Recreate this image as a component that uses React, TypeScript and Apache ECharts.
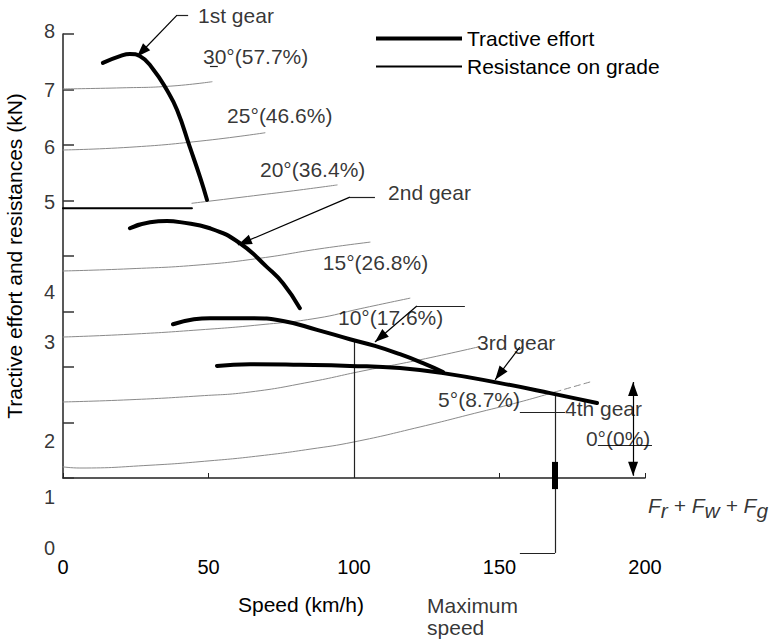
import React, { useEffect, useRef } from 'react';
import * as echarts from 'echarts';

const FONT = '"Liberation Sans", Arial, Helvetica, sans-serif';

// ---- axes ----
const xMin = 0;
const xMax = 200;
const xInterval = 50;
const yMin = 0;
const yMax = 8;
const yInterval = 1;
// the printed y tick labels sit where the original figure put them (kN positions)
const yTickLabels = ['0', '1', '2', '3', '4', '5', '6', '7', '8'];
const yTickLabelAt = [-1.26, -0.34, 0.67, 2.45, 3.35, 4.97, 5.96, 6.99, 8.05];
const yTickLabelSpeed = -4.6;

// ---- tractive effort (speed km/h, force kN) ----
const gear1 = [[13.7, 7.48], [19.6, 7.6], [23.0, 7.64], [26.5, 7.6], [30.9, 7.37], [35.7, 6.99], [39.2, 6.63], [43.6, 5.96], [47.1, 5.42], [49.5, 5.01]];
const gear2 = [[23.0, 4.5], [29.9, 4.61], [35.7, 4.63], [40.2, 4.61], [50.5, 4.5], [60.8, 4.23], [70.1, 3.8], [75.6, 3.51], [81.4, 3.06]];
const gear3 = [[37.8, 2.77], [45.0, 2.86], [50.5, 2.88], [64.3, 2.88], [75.6, 2.83], [87.3, 2.67], [98.6, 2.5], [107.2, 2.38], [115.8, 2.23], [123.7, 2.07], [130.6, 1.91]];
const gear4 = [[52.9, 2.02], [64.3, 2.05], [81.4, 2.04], [98.6, 2.02], [115.8, 1.98], [130.6, 1.89], [150.2, 1.71], [167.4, 1.53], [183.5, 1.35]];

// ---- resistance on grade ----
const grade0 = [[0, 0.2], [5.8, 0.18], [29.9, 0.23], [50.5, 0.31], [67.7, 0.4], [84.9, 0.52], [100, 0.65], [122.7, 0.92], [143.3, 1.19], [157.0, 1.37], [169.1, 1.55]];
const grade0Dashed = [[169.1, 1.55], [181.1, 1.73]];
const grade5 = [[0, 1.37], [23.0, 1.41], [47.1, 1.48], [64.3, 1.55], [84.9, 1.73], [103.1, 1.93], [122.7, 2.13], [142.6, 2.36]];
const grade10 = [[0, 2.54], [23.0, 2.59], [47.1, 2.67], [67.7, 2.76], [87.3, 2.88], [102.1, 3.05], [119.2, 3.24]];
const grade15 = [[0, 3.73], [23.0, 3.77], [47.1, 3.84], [67.7, 3.96], [88.3, 4.13], [105.5, 4.25]];
const grade20 = [[44.3, 4.95], [67.7, 5.1], [81.4, 5.19], [94.2, 5.28]];
const grade20Lead = [[0, 4.86], [44.3, 4.86]];
const grade25 = [[0, 5.91], [23.0, 5.96], [47.1, 6.07], [69.4, 6.22]];
const grade30 = [[0, 7.01], [20.3, 7.03], [36.8, 7.06], [51.2, 7.14]];

// ---- annotations ----
const annotationTexts = ['1st gear', '30°(57.7%)', '25°(46.6%)', '20°(36.4%)', '2nd gear', '15°(26.8%)', '10°(17.6%)', '3rd gear', '5°(8.7%)', '4th gear', '0°(0%)', 'Maximum\nspeed'];
const annotationSpeed = [46.4, 48.1, 56.4, 67.7, 111.7, 89.3, 94.5, 142.3, 128.9, 172.5, 179.7, 125.1];
const annotationForce = [8.34, 7.59, 6.54, 5.55, 5.14, 3.89, 2.9, 2.45, 1.41, 1.26, 0.72, -2.5];
const formulaAt = [201.0, -0.49];

const leaderLines = [
  [[43.0, 8.34], [39.2, 8.34]],
  [[107.2, 5.06], [98.6, 5.06]],
  [[138.1, 3.1], [121.6, 3.1]],
  [[157.0, 1.19], [172.5, 1.19]],
  [[169.1, 1.53], [169.1, -1.35]],
  [[169.1, -1.35], [157.0, -1.35]],
  [[100, 2.49], [100, 0]],
  [[50.5, 7.41], [53.2, 7.41]],
  [[183.8, 0.59], [202.4, 0.59]],
];
const arrowLines = [
  [[39.2, 8.34], [25.4, 7.59]],
  [[98.6, 5.06], [60.1, 4.2]],
  [[121.6, 3.1], [107.2, 2.45]],
  [[157.0, 2.36], [148.5, 1.77]],
];
const doubleArrow = [[195.9, 0.04], [195.9, 1.73]];
const maxSpeedMark = [[169.1, 0.29], [169.1, -0.2]];

const ARROW = 'path://M5,0L5,0.01M5,14L10,28L0,28Z';

function curve(name: string, data: number[][], color: string, width: number, z: number, dashed = false) {
  return {
    type: 'line',
    name,
    data,
    smooth: 0.5,
    showSymbol: false,
    symbol: 'none',
    clip: false,
    silent: true,
    z,
    lineStyle: { color, width, type: dashed ? [6, 4] : 'solid', cap: 'round' },
    itemStyle: { color },
    emphasis: { disabled: true },
  };
}

export default function App() {
  const ref = useRef<HTMLDivElement>(null);
  useEffect(() => {
    if (!ref.current) return;
    const chart = echarts.init(ref.current, null, { renderer: 'svg' });
    const gray = '#8a8a8a';
    const option: any = {
      animation: false,
      backgroundColor: '#fff',
      textStyle: { fontFamily: FONT },
      grid: { left: 63, right: 128, top: 34, bottom: 162, outerBoundsMode: 'none', containLabel: false },
      legend: {
        show: true,
        orient: 'vertical',
        left: 376,
        top: 28,
        padding: 0,
        itemWidth: 86,
        itemHeight: 20,
        itemGap: 7,
        selectedMode: false,
        textStyle: { fontSize: 21, color: '#000', fontFamily: FONT },
        itemStyle: { borderWidth: 0 },
        data: [
          { name: 'Tractive effort', icon: 'path://M0,0L86,0L86,4L0,4Z', itemStyle: { color: '#000', borderWidth: 0 } },
          { name: 'Resistance on grade', icon: 'path://M0,0L86,0L86,2L0,2Z', itemStyle: { color: '#000', borderWidth: 0 } },
        ],
      },
      xAxis: {
        type: 'value',
        min: xMin,
        max: xMax,
        interval: xInterval,
        name: 'Speed (km/h)',
        nameLocation: 'middle',
        nameGap: 116,
        nameTextStyle: { fontSize: 21, color: '#000', fontFamily: FONT, padding: [0, 106, 0, 0] },
        axisLine: { show: true, onZero: false, lineStyle: { color: '#222', width: 1.5 } },
        axisTick: { show: true, inside: true, length: 5, lineStyle: { color: '#222' } },
        axisLabel: { show: true, margin: 79, fontSize: 20, color: '#000', fontFamily: FONT },
        splitLine: { show: false },
      },
      yAxis: {
        type: 'value',
        min: yMin,
        max: yMax,
        interval: yInterval,
        name: 'Tractive effort and resistances (kN)',
        nameLocation: 'middle',
        nameGap: 38,
        nameTextStyle: { fontSize: 21, color: '#000', fontFamily: FONT },
        axisLine: { show: true, lineStyle: { color: '#222', width: 1.5 } },
        axisTick: { show: true, inside: true, length: 11, lineStyle: { color: '#333', width: 1.5 } },
        axisLabel: { show: false },
        splitLine: { show: false },
      },
      series: [
        curve('Resistance on grade', grade0, gray, 1, 2),
        curve('grade0dash', grade0Dashed, gray, 1, 2, true),
        curve('Resistance on grade', grade5, gray, 1, 2),
        curve('Resistance on grade', grade10, gray, 1, 2),
        curve('Resistance on grade', grade15, gray, 1, 2),
        curve('Resistance on grade', grade20, gray, 1, 2),
        curve('grade20lead', grade20Lead, '#000', 2, 2),
        curve('Resistance on grade', grade25, gray, 1, 2),
        curve('Resistance on grade', grade30, gray, 1, 2),
        curve('Tractive effort', gear1, '#000', 4, 5),
        curve('Tractive effort', gear2, '#000', 4, 5),
        curve('Tractive effort', gear3, '#000', 4, 5),
        curve('Tractive effort', gear4, '#000', 4, 5),
        {
          type: 'lines',
          name: 'leaders',
          coordinateSystem: 'cartesian2d',
          clip: false,
          silent: true,
          z: 4,
          symbol: ['none', 'none'],
          lineStyle: { color: '#222', width: 1.2, opacity: 1, curveness: 0 },
          data: leaderLines.map((c) => ({ coords: c })),
        },
        {
          type: 'lines',
          name: 'arrows',
          coordinateSystem: 'cartesian2d',
          clip: false,
          silent: true,
          z: 6,
          symbol: ['none', ARROW],
          symbolSize: [[10, 28], [10, 28]],
          lineStyle: { color: '#000', width: 1.2, opacity: 1, curveness: 0 },
          data: arrowLines.map((c) => ({ coords: c })),
        },
        {
          type: 'lines',
          name: 'doubleArrow',
          coordinateSystem: 'cartesian2d',
          clip: false,
          silent: true,
          z: 6,
          symbol: [ARROW, ARROW],
          symbolSize: [[10, 28], [10, 28]],
          lineStyle: { color: '#000', width: 1.2, opacity: 1, curveness: 0 },
          data: [{ coords: doubleArrow }],
        },
        {
          type: 'lines',
          name: 'maxSpeedMark',
          coordinateSystem: 'cartesian2d',
          clip: false,
          silent: true,
          z: 6,
          symbol: ['none', 'none'],
          lineStyle: { color: '#000', width: 6, opacity: 1, curveness: 0 },
          data: [{ coords: maxSpeedMark }],
        },
        {
          type: 'scatter',
          name: 'annotations',
          clip: false,
          silent: true,
          symbolSize: 0,
          z: 8,
          itemStyle: { color: 'rgba(0,0,0,0)' },
          label: {
            show: true,
            position: 'right',
            distance: 0,
            fontSize: 21,
            lineHeight: 22,
            color: '#000',
            fontFamily: FONT,
            formatter: (p: any) => p.value[2],
          },
          data: [
            ...annotationTexts.map((t, i) => ({ value: [annotationSpeed[i], annotationForce[i], t] })),
            {
              value: [formulaAt[0], formulaAt[1], 'F'],
              label: {
                formatter: '{F|F}{s|r}{F| + F}{s|w}{F| + F}{s|g}',
                rich: {
                  F: { fontSize: 21, fontStyle: 'italic', fontFamily: FONT, color: '#000', lineHeight: 32, verticalAlign: 'middle' },
                  s: { fontSize: 21, fontStyle: 'italic', fontFamily: FONT, color: '#000', lineHeight: 20, verticalAlign: 'bottom' },
                },
              },
            },
          ],
        },
        {
          type: 'scatter',
          name: 'yTickLabels',
          clip: false,
          silent: true,
          symbolSize: 0,
          z: 8,
          itemStyle: { color: 'rgba(0,0,0,0)' },
          label: {
            show: true,
            position: 'inside',
            fontSize: 20,
            color: '#000',
            fontFamily: FONT,
            formatter: (p: any) => p.value[2],
          },
          data: yTickLabels.map((t, i) => ({ value: [yTickLabelSpeed, yTickLabelAt[i], t] })),
        },
      ],
    };
    chart.setOption(option);
    return () => chart.dispose();
  }, []);
  return (
    <div
      ref={ref}
      style={{ position: 'absolute', left: 0, top: 0, width: 773, height: 640, background: '#fff' }}
    />
  );
}
